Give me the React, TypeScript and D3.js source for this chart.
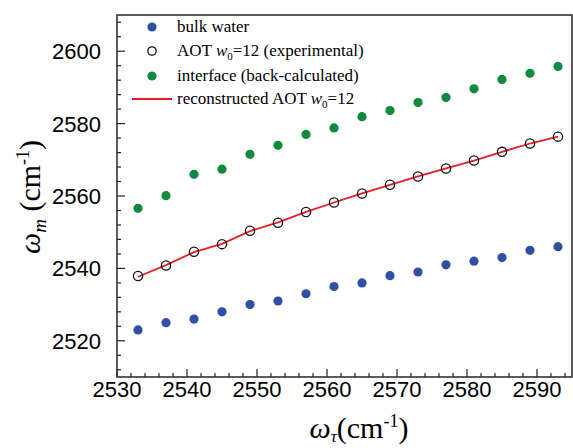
import React, { useEffect, useRef } from "react";
import * as d3 from "d3";

const tauFreq = [2533, 2537, 2541, 2545, 2549, 2553, 2557, 2561, 2565, 2569, 2573, 2577, 2581, 2585, 2589, 2593];
const bulkWater = [2523, 2525, 2526, 2528, 2530, 2531, 2533, 2535, 2536, 2538, 2539, 2541, 2542, 2543, 2545, 2546];
const aotExperimental = [2537.9, 2540.8, 2544.6, 2546.7, 2550.4, 2552.6, 2555.6, 2558.2, 2560.7, 2563.1, 2565.4, 2567.6, 2569.8, 2572.2, 2574.5, 2576.4];
const interfaceCalc = [2556.6, 2560.1, 2566.0, 2567.4, 2571.5, 2574.0, 2577.0, 2578.8, 2581.9, 2583.6, 2585.8, 2587.2, 2589.6, 2592.2, 2593.9, 2595.8];
const aotReconstructed = [2537.7, 2540.9, 2544.5, 2546.8, 2550.3, 2552.7, 2555.6, 2558.2, 2560.7, 2563.1, 2565.4, 2567.6, 2569.8, 2572.2, 2574.5, 2576.4];

const xTicks = [2530, 2540, 2550, 2560, 2570, 2580, 2590];
const yTicks = [2520, 2540, 2560, 2580, 2600];

const BLUE = "#2f4ea6";
const GREEN = "#0f8a3f";
const RED = "#ec1c24";
const SERIF = "'Liberation Serif', 'Times New Roman', serif";
const SANS = "'Liberation Sans', Arial, sans-serif";

export default function App() {
  const ref = useRef<SVGSVGElement | null>(null);

  useEffect(() => {
    const svg = d3.select(ref.current);
    svg.selectAll("*").remove();

    const left = 117, right = 572, top = 15, bottom = 377;
    const x = d3.scaleLinear().domain([2530, 2595]).range([left, right]);
    const y = d3.scaleLinear().domain([2510, 2610]).range([bottom, top]);

    // minor + major ticks, pointing inward
    const xMinor = d3.range(2530, 2595.1, 2);
    svg
      .append("g")
      .selectAll("line")
      .data(xMinor)
      .join("line")
      .attr("x1", (d) => x(d))
      .attr("x2", (d) => x(d))
      .attr("y1", bottom)
      .attr("y2", (d) => bottom - (d % 10 === 0 ? 8 : 4))
      .style("stroke", "#222")
      .style("stroke-width", 1.2);

    const yMinor = d3.range(2512, 2610, 4);
    svg
      .append("g")
      .selectAll("line")
      .data(yMinor)
      .join("line")
      .attr("x1", left)
      .attr("x2", (d) => left + (d % 20 === 0 ? 8 : 4))
      .attr("y1", (d) => y(d))
      .attr("y2", (d) => y(d))
      .style("stroke", "#222")
      .style("stroke-width", 1.2);

    svg
      .append("rect")
      .attr("x", left)
      .attr("y", top)
      .attr("width", right - left)
      .attr("height", bottom - top)
      .style("fill", "none")
      .style("stroke", "#333")
      .style("stroke-width", 1.6);

    svg
      .append("g")
      .selectAll("text")
      .data(xTicks)
      .join("text")
      .attr("x", (d) => x(d))
      .attr("y", 397)
      .attr("text-anchor", "middle")
      .style("font-family", SANS)
      .style("font-size", "22px")
      .text((d) => d);

    svg
      .append("g")
      .selectAll("text")
      .data(yTicks)
      .join("text")
      .attr("x", 101)
      .attr("y", (d) => y(d))
      .attr("dy", "0.36em")
      .attr("text-anchor", "end")
      .style("font-family", SANS)
      .style("font-size", "22px")
      .text((d) => d);

    // axis titles
    const xt = svg
      .append("text")
      .attr("x", 359)
      .attr("y", 438)
      .attr("text-anchor", "middle")
      .style("font-family", SERIF)
      .style("font-size", "30px");
    xt.append("tspan").style("font-style", "italic").text("ω");
    xt.append("tspan").attr("dy", 4).style("font-style", "italic").style("font-size", "17px").text("τ");
    xt.append("tspan").attr("dy", -4).text("(cm");
    xt.append("tspan").attr("dy", -11).style("font-size", "18px").text("-1");
    xt.append("tspan").attr("dy", 11).text(")");

    const yt = svg
      .append("text")
      .attr("transform", "translate(40,197) rotate(-90)")
      .attr("text-anchor", "middle")
      .style("font-family", SERIF)
      .style("font-size", "30px");
    yt.append("tspan").style("font-style", "italic").text("ω");
    yt.append("tspan").attr("dy", 6).style("font-style", "italic").style("font-size", "19px").text("m");
    yt.append("tspan").attr("dy", -6).text(" (cm");
    yt.append("tspan").attr("dy", -11).style("font-size", "18px").text("-1");
    yt.append("tspan").attr("dy", 11).text(")");

    // reconstructed line
    const line = d3
      .line<number>()
      .x((_, i) => x(tauFreq[i]))
      .y((d) => y(d));
    svg
      .append("path")
      .attr("d", line(aotReconstructed))
      .style("fill", "none")
      .style("stroke", RED)
      .style("stroke-width", 1.8);

    const dots = (vals: number[], fill: string, stroke: string) => {
      svg
        .append("g")
        .selectAll("circle")
        .data(vals)
        .join("circle")
        .attr("cx", (_, i) => x(tauFreq[i]))
        .attr("cy", (d) => y(d))
        .attr("r", 4.6)
        .style("fill", fill)
        .style("stroke", stroke)
        .style("stroke-width", stroke === "none" ? 0 : 1.3);
    };
    dots(bulkWater, BLUE, "none");
    dots(interfaceCalc, GREEN, "none");
    dots(aotExperimental, "none", "#111");

    // legend
    const lg = svg.append("g").style("font-family", SERIF).style("font-size", "17px");
    const rows = [27, 51, 76, 99];
    lg.append("circle").attr("cx", 152).attr("cy", rows[0]).attr("r", 4.6).style("fill", BLUE);
    lg.append("circle").attr("cx", 152).attr("cy", rows[1]).attr("r", 4.2).style("fill", "none").style("stroke", "#111").style("stroke-width", 1.3);
    lg.append("circle").attr("cx", 152).attr("cy", rows[2]).attr("r", 4.6).style("fill", GREEN);
    lg.append("line").attr("x1", 132).attr("x2", 172).attr("y1", rows[3]).attr("y2", rows[3]).style("stroke", RED).style("stroke-width", 1.8);

    lg.append("text").attr("x", 177).attr("y", rows[0] + 5).text("bulk water");
    const t2 = lg.append("text").attr("x", 177).attr("y", rows[1] + 5);
    t2.append("tspan").text("AOT ");
    t2.append("tspan").style("font-style", "italic").text("w");
    t2.append("tspan").attr("dy", 4).style("font-size", "11px").text("0");
    t2.append("tspan").attr("dy", -4).text("=12 (experimental)");
    lg.append("text").attr("x", 177).attr("y", rows[2] + 5).text("interface (back-calculated)");
    const t4 = lg.append("text").attr("x", 177).attr("y", rows[3] + 5);
    t4.append("tspan").text("reconstructed AOT ");
    t4.append("tspan").style("font-style", "italic").text("w");
    t4.append("tspan").attr("dy", 4).style("font-size", "11px").text("0");
    t4.append("tspan").attr("dy", -4).text("=12");
  }, []);

  return (
    <div style={{ position: "absolute", left: 0, top: 0, background: "white" }}>
      <svg ref={ref} width={573} height={448} style={{ display: "block" }} />
    </div>
  );
}
